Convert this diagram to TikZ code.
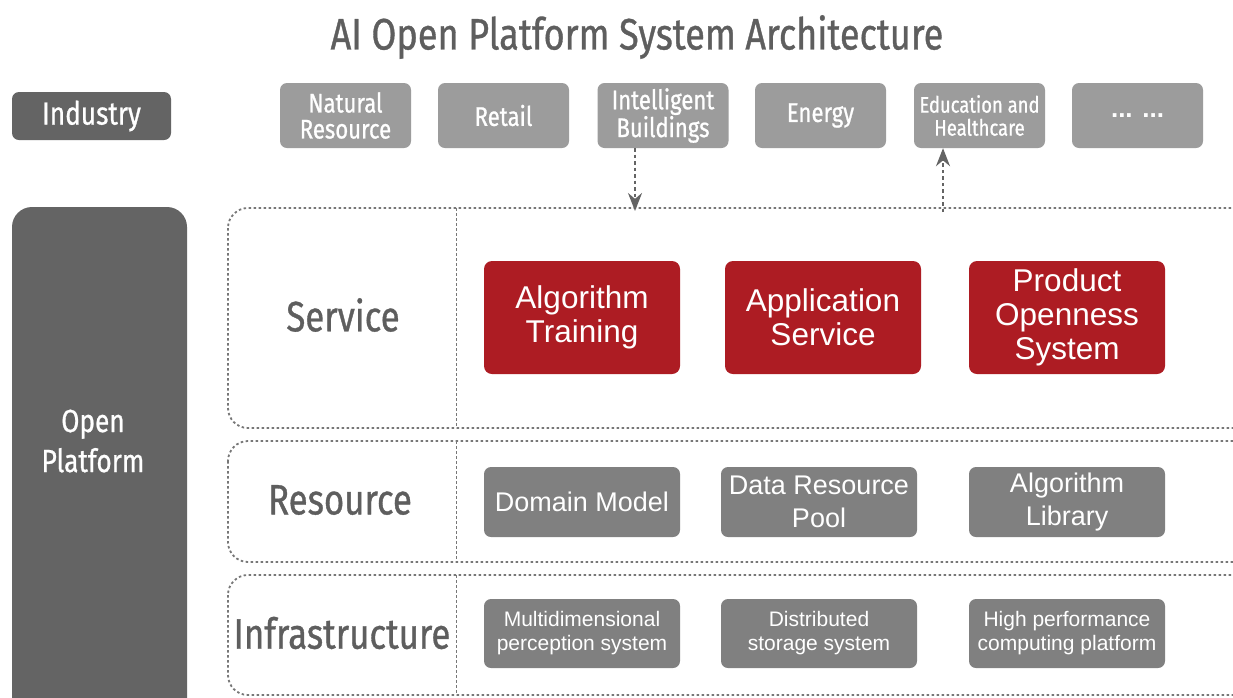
\documentclass[tikz,border=0pt]{standalone}
\usepackage{fontspec}
\setmainfont{Liberation Sans}
\newfontfamily\din[FakeStretch=0.82,FakeBold=0.8]{Fira Sans}
\usetikzlibrary{arrows.meta}
\definecolor{redbox}{HTML}{AD1C23}
\definecolor{darkbox}{HTML}{646464}
\definecolor{midbox}{HTML}{808080}
\definecolor{lightbox}{HTML}{9C9C9C}
\definecolor{labeltxt}{HTML}{5E5E5E}
\definecolor{dashc}{HTML}{777777}
\tikzset{
  indbox/.style={fill=lightbox, draw=none, rounded corners=7pt, minimum width=131pt, minimum height=65pt, text=white, align=center, font=\din\fontsize{27}{26}\selectfont},
  redblock/.style={fill=redbox, draw=none, rounded corners=8pt, minimum width=196pt, minimum height=113pt, text=white, align=center, font=\fontsize{31.5}{34}\selectfont},
  resblock/.style={fill=midbox, draw=none, rounded corners=7pt, minimum width=196pt, minimum height=70pt, text=white, align=center, font=\fontsize{27}{33}\selectfont},
  infblock/.style={fill=midbox, draw=none, rounded corners=7pt, minimum width=196pt, minimum height=69pt, text=white, align=center, font=\fontsize{21}{24}\selectfont},
  layerlabel/.style={text=labeltxt, font=\din\fontsize{42.5}{44}\selectfont},
  dashbox/.style={draw=dashc, line width=1.8pt, dash pattern=on 2.5pt off 2.5pt, rounded corners=20pt},
  divider/.style={draw=dashc, line width=1pt, dash pattern=on 3pt off 2pt},
  flow/.style={draw=darkbox, line width=1.8pt, dash pattern=on 3.5pt off 3pt, -{Stealth[length=18pt,width=14pt]}},
}
\begin{document}
\begin{tikzpicture}[x=1pt,y=-1pt]
\useasboundingbox (0,0) rectangle (1233,697);
\fill[white] (0,0) rectangle (1233,697);

% title
\node[text=labeltxt, font=\din\fontsize{44}{46}\selectfont] (title) at (637,37) {AI Open Platform System Architecture};

% industry row
\node[fill=darkbox, rounded corners=7pt, minimum width=159pt, minimum height=48pt, text=white, font=\din\fontsize{32}{34}\selectfont] (industry) at (91.5,116) {Industry};
\node[indbox] (nr) at (345.5,115.5) {Natural\\Resource};
\node[indbox] (retail) at (503.5,115.5) {Retail};
\node[indbox] (ib) at (663,115.5) {Intelligent\\Buildings};
\node[indbox] (energy) at (820.5,115.5) {Energy};
\node[indbox, font=\din\fontsize{22.5}{23}\selectfont] (edu) at (979.5,115.5) {Education and\\Healthcare};
\node[indbox, font=\bfseries\fontsize{26}{26}\selectfont] (more) at (1137.5,115.5) {... ...};

% open platform
\fill[darkbox, rounded corners=20pt] (12,207) rectangle (187,730);
\node[text=white, align=center, font=\din\fontsize{32}{40}\selectfont] (open) at (93,441) {Open\\Platform};

% layers
\draw[dashbox] (228,208) rectangle (1260,428);
\draw[dashbox] (228,441) rectangle (1260,562);
\draw[dashbox] (228,575) rectangle (1260,695);
\draw[divider] (456,208) -- (456,428);
\draw[divider] (456,441) -- (456,562);
\draw[divider] (456,575) -- (456,695);

\node[layerlabel] (service) at (343,315) {Service};
\node[layerlabel] (resource) at (340,500) {Resource};
\node[layerlabel] (infra) at (342,633) {Infrastructure};

% service blocks
\node[redblock] (algtrain) at (582,317.5) {Algorithm\\Training};
\node[redblock] (appserv) at (823,317.5) {Application\\Service};
\node[redblock] (prodopen) at (1067,317.5) {Product\\Openness\\System};

% resource blocks
\node[resblock] (domain) at (582,502) {Domain Model};
\node[resblock] (datapool) at (819,502) {Data Resource\\Pool};
\node[resblock] (alglib) at (1067,502) {Algorithm\\Library};

% infrastructure blocks
\node[infblock] (multi) at (582,633.5) {Multidimensional\\perception system};
\node[infblock] (dist) at (819,633.5) {Distributed\\storage system};
\node[infblock] (hpc) at (1067,633.5) {High performance\\computing platform};

% arrows
\coordinate (downend) at (635,211);
\coordinate (upstart) at (943,212);
\draw[flow] (ib.south -| downend) -- (downend);
\draw[flow] (upstart) -- (edu.south -| upstart);
\end{tikzpicture}
\end{document}
